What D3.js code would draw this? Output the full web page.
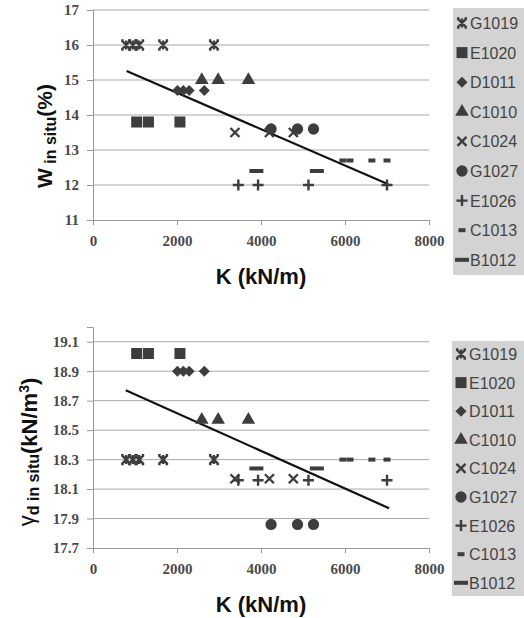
<!DOCTYPE html>
<html>
<head>
<meta charset="utf-8">
<script src="https://cdn.jsdelivr.net/npm/d3@7"></script>
<style>
body { margin: 0; background: #fff; }
svg { display: block; }
</style>
</head>
<body>
<script>
// sample names, K per sample, and the two measured properties
var samples = ["G1019", "E1020", "D1011", "C1010", "C1024", "G1027", "E1026", "C1013", "B1012"];
var kValues = [
	[790, 950, 1100, 1670, 2880],
	[1040, 1320, 2070],
	[2010, 2150, 2290, 2650],
	[2590, 2980, 3700],
	[3380, 4200, 4770],
	[4240, 4870, 5250],
	[3460, 3930, 5130, 7000],
	[5950, 6120, 6640, 7000],
	[3890, 5330]
];
var wValues = [16, 13.8, 14.7, 15, 13.5, 13.6, 12, 12.7, 12.4];
var gammaValues = [18.3, 19.02, 18.9, 18.57, 18.17, 17.86, 18.16, 18.3, 18.24];
var trendW = [[800, 15.26], [7030, 12.02]];
var trendGamma = [[780, 18.77], [7050, 17.97]];
var xTicks = [0, 2000, 4000, 6000, 8000];
var wTicks = [11, 12, 13, 14, 15, 16, 17];
var gammaTicks = [17.7, 17.9, 18.1, 18.3, 18.5, 18.7, 18.9, 19.1];

var shapes = ["star", "square", "diamond", "triangle", "cross", "circle", "plus", "dash", "longdash"];
var ink = "#3d3d3d";

var svg = d3.select("body").append("svg")
	.attr("width", 524)
	.attr("height", 618);

function drawMarker(g, shape, x, y) {
	var m = g.append("g").attr("transform", "translate(" + x + "," + y + ")");
	if (shape == "star") {
		m.append("path").attr("d", "M-4.5,-4.5L4.5,4.5M-4.5,4.5L4.5,-4.5M0,-4.5L0,4.5M-5,-4.5L-2.5,-4.5M2.5,-4.5L5,-4.5M-5,4.5L-2.5,4.5M2.5,4.5L5,4.5")
			.attr("stroke", ink).attr("stroke-width", 2.4).attr("fill", "none");
	} else if (shape == "cross") {
		m.append("path").attr("d", "M-4.5,-4.5L4.5,4.5M-4.5,4.5L4.5,-4.5")
			.attr("stroke", ink).attr("stroke-width", 2.4).attr("fill", "none");
	} else if (shape == "plus") {
		m.append("path").attr("d", "M-5.5,0L5.5,0M0,-5.5L0,5.5")
			.attr("stroke", ink).attr("stroke-width", 2.4).attr("fill", "none");
	} else if (shape == "dash") {
		m.append("rect").attr("x", -3.5).attr("y", -2).attr("width", 7).attr("height", 4).attr("fill", ink);
	} else if (shape == "longdash") {
		m.append("rect").attr("x", -7).attr("y", -2).attr("width", 14).attr("height", 4).attr("fill", ink);
	} else if (shape == "square") {
		m.append("rect").attr("x", -5.5).attr("y", -5.5).attr("width", 11).attr("height", 11).attr("fill", ink);
	} else if (shape == "diamond") {
		m.append("path").attr("d", "M0,-5.5L5.5,0L0,5.5L-5.5,0Z").attr("fill", ink);
	} else {
		var type = {triangle: d3.symbolTriangle, circle: d3.symbolCircle}[shape];
		var size = {triangle: 80, circle: 100}[shape];
		m.append("path").attr("d", d3.symbol().type(type).size(size)()).attr("fill", ink);
	}
}

function drawChart(opt) {
	var x = d3.scaleLinear().domain([0, 8000]).range([93, 429]);
	var y = d3.scaleLinear().domain(opt.domain).range([opt.bottom, opt.top]);
	var g = svg.append("g");

	// gridlines
	g.selectAll(".grid").data(opt.ticks.slice(1))
		.enter().append("line")
		.attr("x1", 93).attr("x2", 429)
		.attr("y1", function(d) { return y(d); })
		.attr("y2", function(d) { return y(d); })
		.attr("stroke", "#a9a9a9").attr("stroke-width", 1);

	var xAxis = g.append("g")
		.attr("transform", "translate(0," + opt.bottom + ")")
		.call(d3.axisBottom(x).tickValues(xTicks).tickSize(5).tickPadding(10).tickFormat(d3.format("d")));
	var yAxis = g.append("g")
		.attr("transform", "translate(93,0)")
		.call(d3.axisLeft(y).tickValues(opt.ticks).tickSize(6).tickPadding(8).tickFormat(opt.fmt));

	[xAxis, yAxis].forEach(function(a) {
		a.select(".domain").attr("stroke", "#999");
		a.selectAll(".tick line").attr("stroke", "#999");
		a.selectAll(".tick text")
			.attr("fill", "#4a4a4a")
			.style("font-family", "'Liberation Serif', serif")
			.style("font-weight", "bold")
			.style("font-size", "15px");
	});

	// trend line
	g.append("path")
		.datum(opt.trend)
		.attr("d", d3.line().x(function(d) { return x(d[0]); }).y(function(d) { return y(d[1]); }))
		.attr("stroke", "#111").attr("stroke-width", 2.2).attr("fill", "none");

	// points
	samples.forEach(function(s, i) {
		kValues[i].forEach(function(k) {
			drawMarker(g, shapes[i], x(k), y(opt.values[i]));
		});
	});

	// x title
	g.append("text")
		.attr("x", 261).attr("y", opt.bottom + 64)
		.attr("text-anchor", "middle")
		.style("font-family", "'Liberation Sans', Arial, sans-serif")
		.style("font-weight", "bold")
		.style("font-size", "22px")
		.attr("fill", "#111")
		.text("K (kN/m)");

	// legend
	var lg = svg.append("g");
	lg.append("rect")
		.attr("x", opt.legend.x).attr("y", opt.legend.y)
		.attr("width", 524 - opt.legend.x).attr("height", opt.legend.h)
		.attr("fill", "#d3d3d3");
	samples.forEach(function(s, i) {
		var cy = opt.legend.first + i * opt.legend.step;
		drawMarker(lg, shapes[i], opt.legend.x + 9, cy);
		lg.append("text")
			.attr("x", opt.legend.x + 17).attr("y", cy + 6)
			.style("font-family", "'Liberation Sans', Arial, sans-serif")
			.style("font-size", "16px")
			.attr("fill", "#444")
			.text(s);
	});

	return g;
}

drawChart({
	domain: [11, 17], top: 10, bottom: 220, ticks: wTicks, fmt: d3.format("d"),
	values: wValues, trend: trendW,
	legend: {x: 453, y: 8, h: 267, first: 23, step: 29.6}
});

drawChart({
	domain: [17.7, 19.2], top: 327, bottom: 548, ticks: gammaTicks, fmt: d3.format(".1f"),
	values: gammaValues, trend: trendGamma,
	legend: {x: 452, y: 341, h: 255, first: 354, step: 28.6}
});

// y titles
var t1 = svg.append("text")
	.attr("transform", "translate(52,136) rotate(-90)")
	.attr("text-anchor", "middle")
	.style("font-family", "'Liberation Sans', Arial, sans-serif")
	.style("font-weight", "bold")
	.attr("fill", "#111");
t1.append("tspan").style("font-size", "21px").text("W");
t1.append("tspan").style("font-size", "16px").attr("dy", 4).text(" in situ");
t1.append("tspan").style("font-size", "21px").attr("dy", -4).text("(%)");

var t2 = svg.append("text")
	.attr("transform", "translate(37,452) rotate(-90)")
	.attr("text-anchor", "middle")
	.style("font-family", "'Liberation Sans', Arial, sans-serif")
	.style("font-weight", "bold")
	.attr("fill", "#111");
t2.append("tspan").style("font-size", "22px").style("font-weight", "normal").attr("dy", -3).text("γ");
t2.append("tspan").style("font-size", "16px").attr("dy", 5).text("d in situ");
t2.append("tspan").style("font-size", "22px").attr("dy", -2).text("(kN/m");
t2.append("tspan").style("font-size", "14px").attr("dy", -8).text("3");
t2.append("tspan").style("font-size", "22px").attr("dy", 8).text(")");
</script>
</body>
</html>
